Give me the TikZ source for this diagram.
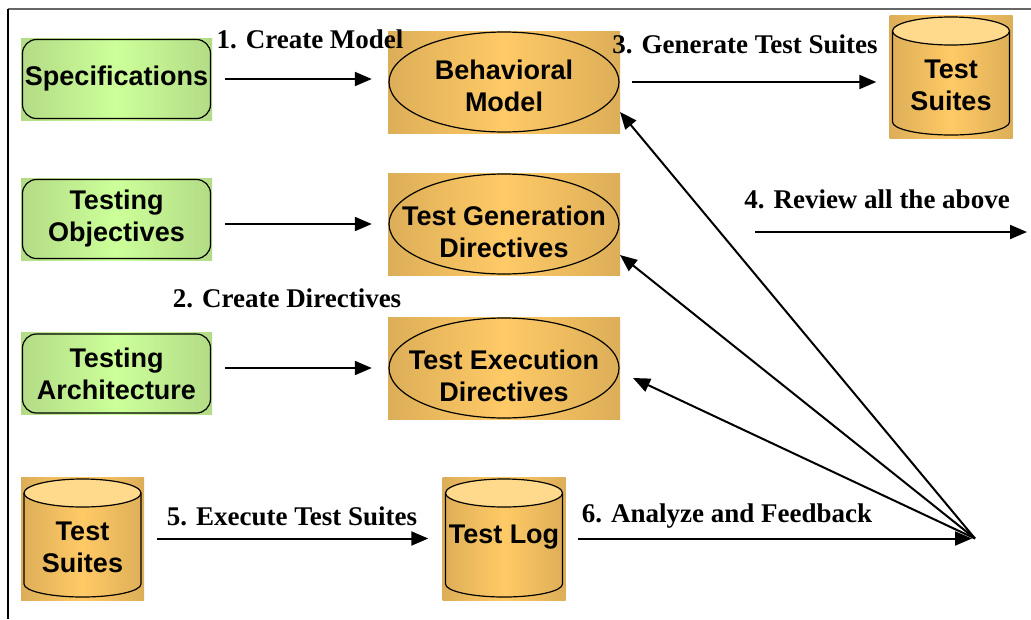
\documentclass[tikz,border=0pt]{standalone}
\usepackage{fontspec}
\newfontfamily\boxfont{Liberation Sans}
\newfontfamily\labfont{Liberation Serif}
\usetikzlibrary{arrows.meta,calc}
\definecolor{grEdge}{HTML}{B3DB86}
\definecolor{grMid}{HTML}{CCFF99}
\definecolor{orEdge}{HTML}{DCAE58}
\definecolor{orMid}{HTML}{FFCA66}
\definecolor{orTop}{HTML}{FFD98C}
\begin{document}
\begin{tikzpicture}[x=1pt,y=-1pt,
  boxtext/.style={font=\boxfont\bfseries\fontsize{27}{32}\selectfont,align=center,inner sep=0pt},
  labtext/.style={font=\labfont\bfseries\fontsize{27}{30}\selectfont,inner sep=0pt},
  greenbox/.style={boxtext,minimum width=191pt,minimum height=82pt,
    left color=grEdge,right color=grEdge,middle color=grMid,
    path picture={\draw[line width=1.2pt,rounded corners=14pt]
      ([shift={(1.5pt,1.5pt)}]path picture bounding box.south west) rectangle
      ([shift={(-1.5pt,-1.5pt)}]path picture bounding box.north east);}},
  ovalbox/.style={minimum width=232pt,minimum height=102pt,inner sep=0pt,
    left color=orEdge,right color=orEdge,middle color=orMid,
    path picture={\draw[line width=1.2pt] (path picture bounding box.center)
      ellipse [x radius=115pt,y radius=50pt];}},
  cylbox/.style={minimum width=123pt,minimum height=123pt,inner sep=0pt,
    left color=orEdge,right color=orEdge,middle color=orMid,
    path picture={
      \draw[line width=1.2pt] ($(path picture bounding box.north west)+(3,16)$) --
        ($(path picture bounding box.south west)+(3,-16)$)
        arc [start angle=180,end angle=360,x radius=58.5pt,y radius=13pt] --
        ($(path picture bounding box.north east)+(-3,16)$);
      \filldraw[fill=orTop,line width=1.2pt] ($(path picture bounding box.north)+(0,16)$)
        ellipse [x radius=58.5pt,y radius=14pt];}},
  arr/.style={line width=2pt,-{Triangle[length=17pt,width=14pt]}},
  frameline/.style={line width=1.4pt}
]
\fill[white] (0,0) rectangle (1031,619);
\useasboundingbox (0,0) rectangle (1031,619);

% frame
\coordinate (frTL) at (8,9);
\coordinate (frTR) at (1031,9);
\coordinate (frBL) at (8,619);
\draw[frameline,black!60] (frTL) -- (frTR);
\draw[frameline,black] (frTL) -- (frBL);

% green boxes
\node[greenbox] (spec) at (116.5,79) {Specifications};
\node[greenbox] (tobj) at (116.5,219) {Testing\\Objectives};
\node[greenbox] (tarch) at (116.5,373.5) {Testing\\Architecture};

% oval boxes
\node[ovalbox] (bm) at (504,82) {};
\node[boxtext] (bmt) at (504,86) {Behavioral\\Model};
\node[ovalbox] (tgd) at (504,224) {};
\node[boxtext] (tgdt) at (504,232) {Test Generation\\Directives};
\node[ovalbox] (ted) at (504,368) {};
\node[boxtext] (tedt) at (504,376) {Test Execution\\Directives};

% cylinders
\node[cylbox] (ts1) at (951,76.5) {};
\node[boxtext] (ts1t) at (951,85) {Test\\Suites};
\node[cylbox] (ts2) at (82.5,538.5) {};
\node[boxtext] (ts2t) at (82.5,547) {Test\\Suites};
\node[cylbox] (tlog) at (504,538.5) {};
\node[boxtext] (tlogt) at (504,537) {Test Log};

% labels
\node[labtext] (l1) at (310,39) {1. Create Model};
\node[labtext] (l2) at (287,298) {2. Create Directives};
\node[labtext] (l3) at (745,44) {3. Generate Test Suites};
\node[labtext] (l4) at (877,199) {4. Review all the above};
\node[labtext] (l5) at (292,516) {5. Execute Test Suites};
\node[labtext] (l6) at (727,516) {6. Analyze and Feedback};

% arrows
\draw[arr,shorten <=13pt,shorten >=16pt] (spec.east) -- (spec.east -| bm.west);
\draw[arr,shorten <=13pt,shorten >=16pt] (tobj.east |- tgd.west) -- (tgd.west);
\draw[arr,shorten <=13pt,shorten >=16pt] (tarch.east |- ted.west) -- (ted.west);
\draw[arr,shorten <=12pt,shorten >=13pt] (bm.east) -- (bm.east -| ts1.west);
\coordinate (r4a) at (755,232);
\coordinate (r4b) at (1027,232);
\draw[arr] (r4a) -- (r4b);
\draw[arr,shorten <=13pt,shorten >=14pt] (ts2.east) -- (tlog.west);
\coordinate (conv) at (975,538.5);
\draw[arr,shorten <=12pt,shorten >=3pt] (tlog.east) -- (conv);
\coordinate (tipbm) at (620,112);
\coordinate (tiptgd) at (620,255);
\coordinate (tipted) at (633,378);
\draw[arr] (conv) -- (tipbm);
\draw[arr] (conv) -- (tiptgd);
\draw[arr] (conv) -- (tipted);
\end{tikzpicture}
\end{document}
